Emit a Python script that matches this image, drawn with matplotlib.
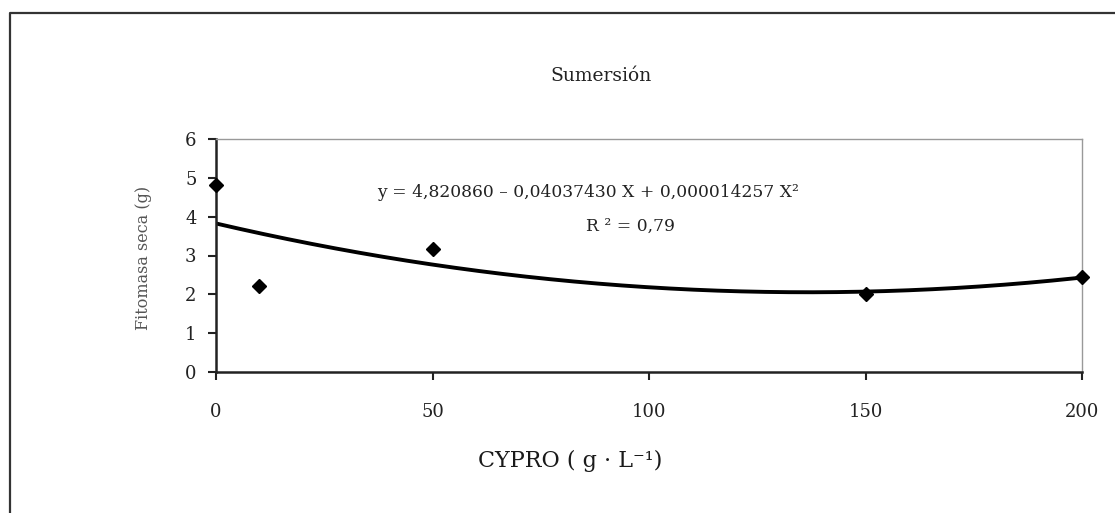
import numpy as np
import matplotlib
matplotlib.use("Agg")
import matplotlib.pyplot as plt
from matplotlib.lines import Line2D

plt.rcParams['font.family'] = ['DejaVu Serif']

# data
cypro = [0, 10, 50, 150, 200]
fitomasa = [4.82, 2.22, 3.18, 2.0, 2.45]
x_ticks = [0, 50, 100, 150, 200]
y_ticks = [0, 1, 2, 3, 4, 5, 6]
title = "Sumersión"
equation = "y = 4,820860 – 0,04037430 X + 0,000014257 X²"
r2_text = "R ² = 0,79"
xlabel = "CYPRO ( g · L⁻¹)"
ylabel = "Fitomasa seca (g)"

W, H = 1115, 513
fig = plt.figure(figsize=(W / 100, H / 100), dpi=100)
fig.patch.set_facecolor('white')

ax = fig.add_axes([216 / W, 1 - 372 / H, (1082 - 216) / W, (372 - 139) / H])

# trend line (quadratic fit of the points)
coef = np.polyfit(cypro, fitomasa, 2)
xs = np.linspace(0, 200, 400)
ax.plot(xs, np.polyval(coef, xs), color='black', lw=2.8, zorder=2)
ax.plot(cypro, fitomasa, linestyle='none', marker='D', ms=7, color='black',
        clip_on=False, zorder=3)

ax.set_xlim(0, 200)
ax.set_ylim(0, 6)
ax.set_xticks(x_ticks)
ax.set_yticks(y_ticks)
ax.tick_params(axis='both', direction='out', length=6, width=1.5, colors='#222222',
               labelsize=13, labelcolor='#222222')
ax.tick_params(axis='x', pad=16)
ax.tick_params(axis='y', pad=8)
for s in ['left', 'bottom']:
    ax.spines[s].set_color('#222222')
    ax.spines[s].set_linewidth(1.8)
for s in ['top', 'right']:
    ax.spines[s].set_color('#999999')
    ax.spines[s].set_linewidth(1.0)

fig.text(601 / W, 1 - 76 / H, title, ha='center', va='center', fontsize=13.5,
         color='#222222')
ax.text(0.4296, 0.7716, equation, transform=ax.transAxes, ha='center', va='center',
        fontsize=12.3, color='#222222')
ax.text(0.479, 0.625, r2_text, transform=ax.transAxes, ha='center', va='center',
        fontsize=12.3, color='#222222')
fig.text(570 / W, 1 - 461 / H, xlabel, ha='center', va='center', fontsize=16,
         color='#1a1a1a')
fig.text(143 / W, 1 - 258 / H, ylabel, ha='center', va='center', rotation=90,
         fontsize=11.5, color='#555555')

# outer frame (left and top)
fig.add_artist(Line2D([10 / W, 10 / W, 1.0], [0.0, 1 - 13 / H, 1 - 13 / H],
                      transform=fig.transFigure, color='#333333', lw=1.6))

fig.savefig("out.png", dpi=100)
